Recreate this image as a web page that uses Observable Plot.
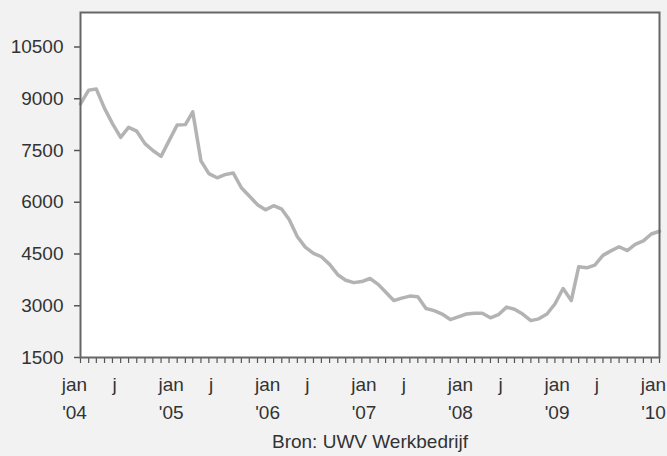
<!DOCTYPE html>
<html>
<head>
<meta charset="utf-8">
<script src="https://cdn.jsdelivr.net/npm/d3@7"></script>
<script src="https://cdn.jsdelivr.net/npm/@observablehq/plot@0.6"></script>
<style>
  html, body { margin: 0; padding: 0; background: #f2f2f2; }
  svg { display: block; }
</style>
</head>
<body>
<div id="chart"></div>
<script>
// Monthly values (first of each month)
const v2004 = [8850, 9250, 9280, 8720, 8280, 7880, 8170, 8060, 7700, 7500, 7330, 7780];
const v2005 = [8240, 8250, 8620, 7200, 6830, 6710, 6800, 6850, 6420, 6180, 5930, 5780];
const v2006 = [5900, 5800, 5500, 5000, 4700, 4520, 4420, 4200, 3900, 3740, 3670, 3700];
const v2007 = [3790, 3620, 3400, 3150, 3220, 3280, 3260, 2920, 2860, 2760, 2600, 2680];
const v2008 = [2760, 2780, 2780, 2650, 2740, 2960, 2900, 2760, 2570, 2620, 2760, 3050];
const v2009 = [3500, 3150, 4130, 4100, 4180, 4460, 4590, 4710, 4600, 4780, 4880, 5080];
const v2010 = [5160];

const startYear = 2004;
const endYear = 2010;
const yTicks = [1500, 3000, 4500, 6000, 7500, 9000, 10500];
const yDomain = [1500, 11500];
const monthNames = ["jan", "j"];        // labels at january and june
const labelMonths = [0, 5];
const yearLabels = ["'04", "'05", "'06", "'07", "'08", "'09", "'10"];
const caption = "Bron: UWV Werkbedrijf";

const values = [...v2004, ...v2005, ...v2006, ...v2007, ...v2008, ...v2009, ...v2010];
const start = new Date(Date.UTC(startYear, 0, 1));
const end = new Date(Date.UTC(endYear, 0, 1));
const data = values.map((v, i) => ({date: d3.utcMonth.offset(start, i), value: v}));

const monthTicks = d3.utcMonth.range(start, d3.utcMonth.offset(end, 1));

const topLabelData = [];
for (let y = startYear; y <= endYear; y++) {
  labelMonths.forEach((m, k) => {
    const d = new Date(Date.UTC(y, m, 1));
    if (d <= end) topLabelData.push({date: d, label: monthNames[k]});
  });
}
const yearLabelData = yearLabels.map((t, i) => ({date: new Date(Date.UTC(startYear + i, 0, 1)), label: t}));

const font = "'Liberation Sans', Arial, Helvetica, sans-serif";
const textColor = "#333333";

const chart = Plot.plot({
  width: 667,
  height: 456,
  marginLeft: 80,
  marginRight: 8,
  marginTop: 12,
  marginBottom: 99,
  style: {background: "#f2f2f2", fontFamily: font, fontSize: "19px", color: textColor},
  x: {type: "utc", domain: [start, end], axis: null},
  y: {domain: yDomain, axis: null},
  marks: [
    Plot.frame({fill: "white", stroke: null}),
    Plot.axisY(yTicks, {tickSize: 6, tickPadding: 11, stroke: "#555", strokeWidth: 1.5, fill: textColor, fontSize: 19, tickFormat: d => String(d), label: null}),
    Plot.axisX(monthTicks, {tickSize: 6, stroke: "#555", strokeWidth: 1.2, tickFormat: () => "", label: null}),
    Plot.lineY(data, {x: "date", y: "value", stroke: "#b3b3b3", strokeWidth: 3.5, strokeLinejoin: "round", strokeLinecap: "round"}),
    Plot.frame({stroke: "#666", strokeWidth: 2}),
    Plot.text(topLabelData, {x: "date", text: "label", frameAnchor: "bottom", dy: 27, dx: -6, lineAnchor: "middle", fontSize: 19, fill: textColor}),
    Plot.text(yearLabelData, {x: "date", text: "label", frameAnchor: "bottom", dy: 55, dx: -6, lineAnchor: "middle", fontSize: 19, fill: textColor}),
    Plot.text([caption], {frameAnchor: "bottom", dy: 84, lineAnchor: "middle", fontSize: 19, fill: textColor})
  ]
});
document.getElementById("chart").appendChild(chart);
</script>
</body>
</html>
